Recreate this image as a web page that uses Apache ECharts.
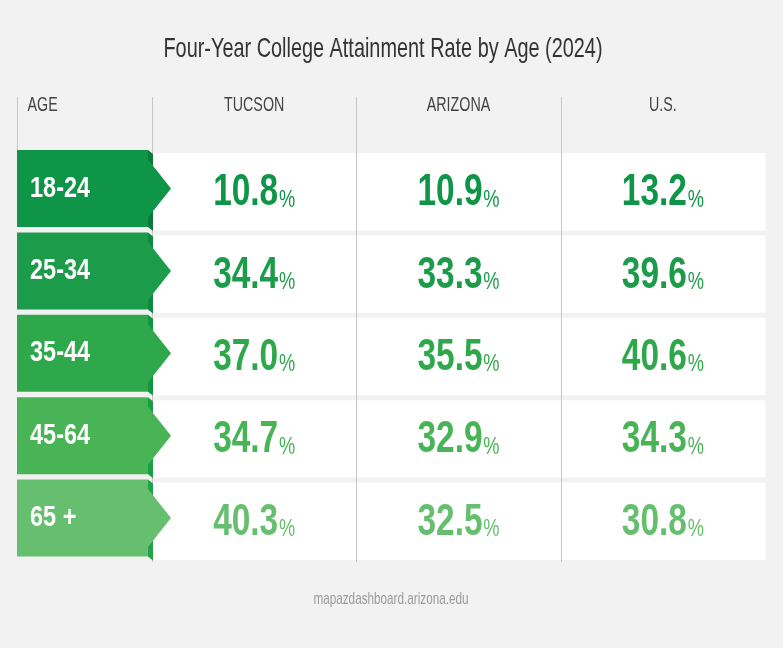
<!DOCTYPE html>
<html>
<head>
<meta charset="utf-8">
<title>Four-Year College Attainment Rate by Age (2024)</title>
<script src="https://cdn.jsdelivr.net/npm/echarts@6/dist/echarts.min.js"></script>
<style>
html, body { margin: 0; padding: 0; background: #f2f2f2; }
#container { width: 783px; height: 648px; }
</style>
</head>
<body>
<div id="container"></div>
<script>
var ageGroups = ['18-24', '25-34', '35-44', '45-64', '65 +'];
var regions = ['TUCSON', 'ARIZONA', 'U.S.'];
var tucson = [10.8, 34.4, 37.0, 34.7, 40.3];
var arizona = [10.9, 33.3, 35.5, 32.9, 32.5];
var us = [13.2, 39.6, 40.6, 34.3, 30.8];

// row colours, dark to light, and the darker "fold" beside each age tab
var rowColors = ['#0f9547', '#1c9c4a', '#2fa84c', '#48b456', '#66bf6e'];
var foldColors = ['#0a7a3b', '#0d8a3f', '#11963f', '#1a9e44', '#20a349'];
// no condensed face installed, so text is squeezed with scaleX
var FONT = '"Liberation Sans", Arial, sans-serif';

var cells = [];
[tucson, arizona, us].forEach(function (vals, c) {
    vals.forEach(function (v, r) {
        cells.push([c, r, v]);
    });
});
var columns = regions.map(function (name, i) { return [i, 0]; });

var dom = document.getElementById('container');
var myChart = echarts.init(dom);

function renderCell(params, api) {
    var p = api.coord([api.value(0), api.value(1)]);
    var s = api.size([1, 1]);
    var top = p[1] - s[1] / 2;
    return {
        type: 'rect',
        shape: { x: p[0] - s[0] / 2, y: top + 3, width: s[0] + 0.5, height: s[1] - 5 },
        style: { fill: '#ffffff' }
    };
}

// column dividers + header labels
function renderLine(params, api) {
    var c = api.value(0);
    var p = api.coord([c, 0]);
    var s = api.size([1, 1]);
    var cs = params.coordSys;
    var x = Math.round(p[0] - s[0] / 2) + 0.5;
    var kids = [{
        type: 'line',
        shape: { x1: x, y1: cs.y - 53, x2: x, y2: cs.y + cs.height },
        style: { stroke: '#c6c6c6', lineWidth: 1 }
    }, {
        type: 'text', x: p[0], y: cs.y - 45, scaleX: 0.68,
        style: { text: regions[c], fontFamily: FONT, fontSize: 21, fill: '#444444', align: 'center', verticalAlign: 'middle' }
    }];
    if (c === 0) {
        kids.push({
            type: 'line',
            shape: { x1: x - 135, y1: cs.y - 53, x2: x - 135, y2: cs.y },
            style: { stroke: '#c6c6c6', lineWidth: 1 }
        }, {
            type: 'text', x: x - 125, y: cs.y - 45, scaleX: 0.68,
            style: { text: 'AGE', fontFamily: FONT, fontSize: 21, fill: '#444444', align: 'left', verticalAlign: 'middle' }
        });
    }
    return { type: 'group', children: kids };
}

function renderValue(params, api) {
    var c = api.value(0), r = api.value(1), v = api.value(2);
    var p = api.coord([c, r]);
    var s = api.size([1, 1]);
    var top = p[1] - s[1] / 2;
    var color = rowColors[r];
    var kids = [{
        type: 'text',
        x: p[0],
        y: top + 43,
        scaleX: 0.76,
        style: {
            text: '{n|' + v.toFixed(1) + '}{p|%}',
            align: 'center',
            verticalAlign: 'middle',
            rich: {
                n: { fontFamily: FONT, fontWeight: 'bold', fontSize: 44, fill: color, verticalAlign: 'bottom' },
                p: { fontFamily: FONT, fontSize: 24, fill: color, verticalAlign: 'bottom', padding: [0, 0, 3, 1] }
            }
        }
    }];
    if (c === 0) {
        var left = Math.round(p[0] - s[0] / 2);
        var mid = top + 38.5;
        kids.unshift(
            { type: 'rect', shape: { x: left - 135, y: top, width: 131, height: 77 }, style: { fill: color } },
            { type: 'polygon', shape: { points: [[left - 4, top], [left + 1, top + 4], [left + 1, top + 81], [left - 4, top + 77]] }, style: { fill: foldColors[r] } },
            { type: 'polygon', shape: { points: [[left - 4, mid - 29], [left + 19, mid], [left - 4, mid + 29]] }, style: { fill: color } },
            {
                type: 'text', x: left - 122, y: mid, scaleX: 0.81,
                style: { text: ageGroups[r], fill: '#ffffff', fontFamily: FONT, fontWeight: 'bold', fontSize: 29, align: 'left', verticalAlign: 'middle' }
            }
        );
    }
    return { type: 'group', children: kids };
}

option = {
    backgroundColor: '#f2f2f2',
    animation: false,
    graphic: [{
        type: 'text',
        x: 383,
        y: 49,
        scaleX: 0.71,
        style: {
            text: 'Four-Year College Attainment Rate by Age (2024)',
            fontFamily: FONT, fontSize: 28, fill: '#333333', align: 'center', verticalAlign: 'middle'
        }
    }, {
        type: 'text',
        x: 391,
        y: 599,
        scaleX: 0.69,
        style: {
            text: 'mapazdashboard.arizona.edu',
            fontFamily: FONT, fontSize: 17, fill: '#9a9a9a', align: 'center', verticalAlign: 'middle'
        }
    }],
    grid: { left: 152, right: 18, top: 150, bottom: 86 },
    xAxis: {
        type: 'category',
        data: regions,
        position: 'top',
        axisLine: { show: false },
        axisTick: { show: false },
        splitLine: { show: false },
        axisLabel: { show: false }
    },
    yAxis: {
        type: 'category',
        data: ageGroups,
        inverse: true,
        show: false
    },
    series: [{
        name: 'cells',
        type: 'custom',
        z: 1,
        renderItem: renderCell,
        data: cells
    }, {
        name: 'dividers',
        type: 'custom',
        z: 2,
        renderItem: renderLine,
        data: columns
    }, {
        name: 'values',
        type: 'custom',
        z: 3,
        renderItem: renderValue,
        data: cells
    }]
};

if (option && typeof option === "object") {
    myChart.setOption(option, true);
}
</script>
</body>
</html>
